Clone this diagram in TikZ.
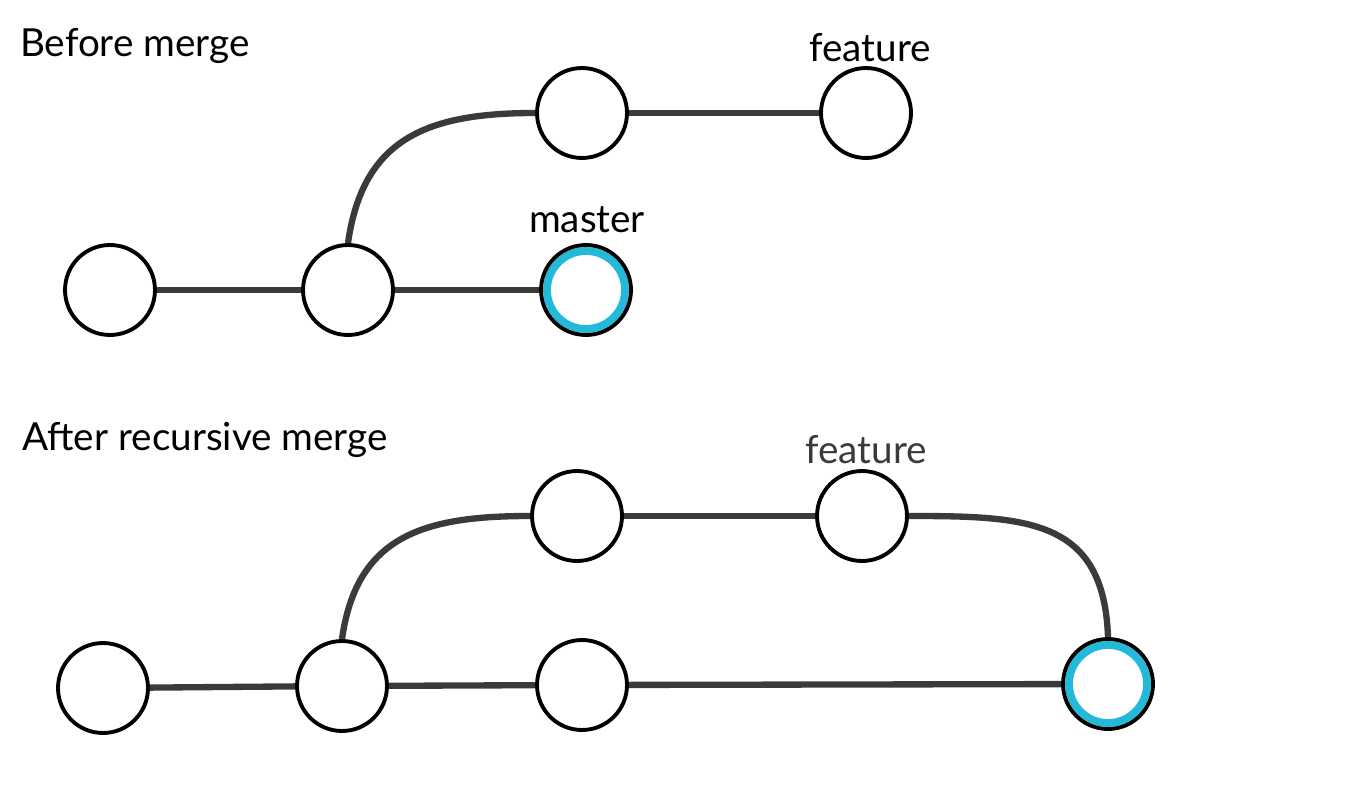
\documentclass[tikz,border=0pt]{standalone}
\usepackage{fontspec}
\setmainfont{Lato}
\definecolor{linkgray}{RGB}{58,58,58}
\definecolor{headblue}{RGB}{35,185,216}

\begin{document}
\begin{tikzpicture}[x=0.02cm,y=0.02cm,
    every node/.style={font=\fontsize{22}{26}\selectfont},
    every circle node/.style={draw,line width=2.2pt,fill=white,minimum size=1.8cm,inner sep=0pt},
    link/.style={draw=linkgray,line width=3.6pt},
    head/.style={path picture={\draw[headblue,line width=4.4pt] (path picture bounding box.center) circle (0.78cm);}}]
    \useasboundingbox (0,0) rectangle (1349,-797);
    % before merge
    \node[anchor=west] (t1) at (14,-46) {Before merge};
    \node[circle] (a1) at (110,-290) {};
    \node[circle] (a2) at (348,-290) {};
    \node[circle,head] (a3) at (586,-290) {};
    \node[circle] (b1) at (582,-113) {};
    \node[circle] (b2) at (866,-113) {};
    \node (master) at (587,-220) {master};
    \node (feat1) at (870,-48) {feature};
    \draw[link] (a1) -- (a2);
    \draw[link] (a2) -- (a3);
    \draw[link] (b1) -- (b2);
    \draw[link] (a2.north) to[out=82,in=180,looseness=1.2] (b1.west);
    % after recursive merge
    \node[anchor=west] (t2) at (16,-440) {After recursive merge};
    \node[circle] (c1) at (103,-688) {};
    \node[circle] (c2) at (342,-686) {};
    \node[circle] (c3) at (582,-685) {};
    \node[circle] (d1) at (577,-516) {};
    \node[circle] (d2) at (862,-516) {};
    \node[circle,head] (m) at (1108,-684) {};
    \node[text=linkgray] (feat2) at (866,-450) {feature};
    \draw[link] (c1) -- (c2);
    \draw[link] (c2) -- (c3);
    \draw[link] (c3) -- (m);
    \draw[link] (d1) -- (d2);
    \draw[link] (c2.north) to[out=82,in=180,looseness=1.2] (d1.west);
    \draw[link] (d2.east) to[out=0,in=92,looseness=1.3] (m.north);
\end{tikzpicture}
\end{document}
